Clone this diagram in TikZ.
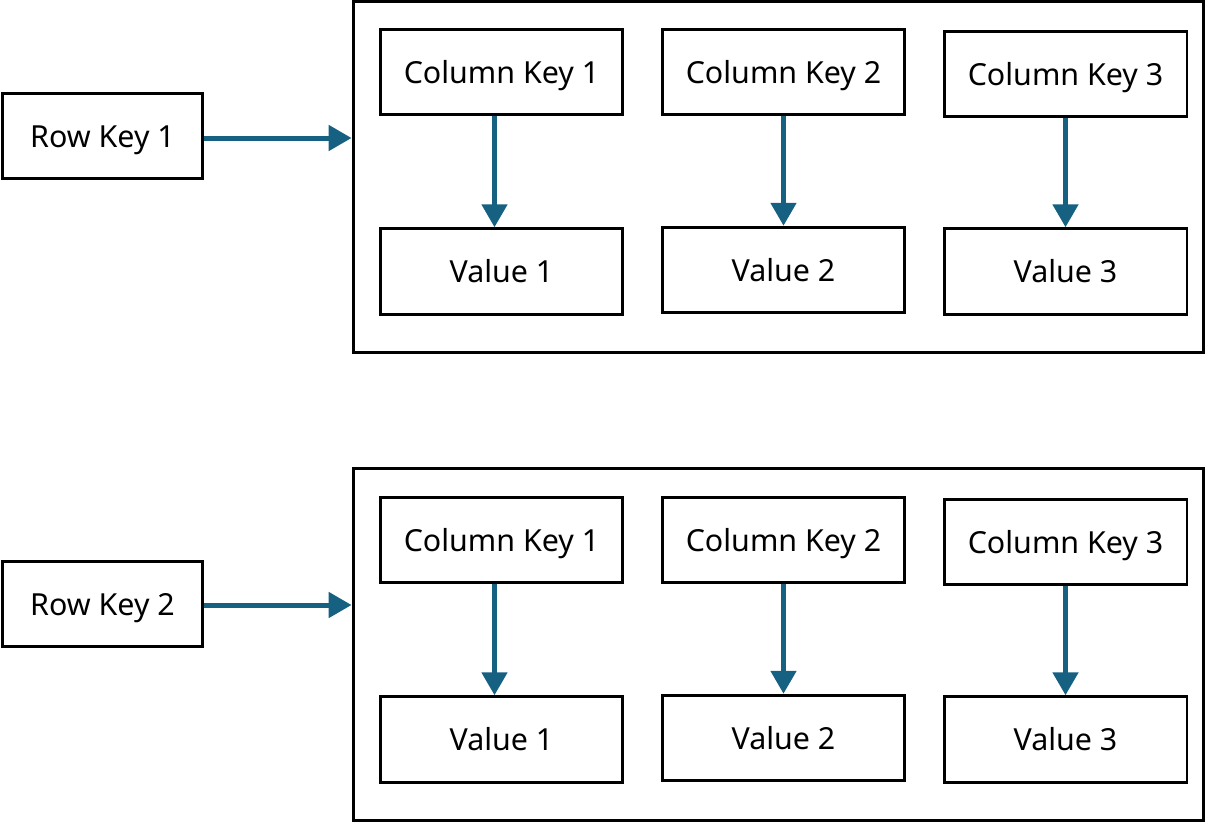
\documentclass[tikz,border=0pt]{standalone}
\usepackage{fontspec}
\setmainfont{Noto Sans}
\usetikzlibrary{arrows.meta}
\definecolor{arrowblue}{RGB}{22,96,130}
\begin{document}
\begin{tikzpicture}[x=0.02cm,y=-0.02cm,
  box/.style={draw=black,line width=1.7pt,fill=white,inner sep=0pt,
    minimum width=4.86cm,minimum height=1.71cm,text height=12.6pt,text depth=0pt,
    font=\fontsize{17.3pt}{20pt}\selectfont},
  rowbox/.style={box,minimum width=4.02cm},
  outerbox/.style={draw=black,line width=1.7pt,inner sep=0pt,minimum width=17.02cm,minimum height=7.03cm},
  link/.style={draw=arrowblue,line width=2.85pt,-{Triangle[width=0.5cm,length=0.46cm]}}]
\useasboundingbox (0,0) rectangle (1206,822);
% top group
\node[outerbox] (o1) at (778.5,177) {};
\node[rowbox] (rk1) at (102.5,136) {Row Key 1};
\node[box] (ca1) at (501.5,72) {Column Key 1};
\node[box] (cb1) at (783.5,72) {Column Key 2};
\node[box] (cc1) at (1065.5,74) {Column Key 3};
\node[box] (va1) at (501.5,271.5) {Value 1};
\node[box] (vb1) at (783.5,270) {Value 2};
\node[box] (vc1) at (1065.5,271.5) {Value 3};
\draw[link] ([yshift=-0.04cm]rk1.east) -- ([yshift=-0.04cm]rk1.east -| o1.west);
\draw[link] ([xshift=-0.14cm]ca1.south) -- ([xshift=-0.14cm]va1.north);
\draw[link] (cb1.south) -- (vb1.north);
\draw[link] (cc1.south) -- (vc1.north);
% bottom group
\node[outerbox] (o2) at (778.5,644.5) {};
\node[rowbox] (rk2) at (102.5,604) {Row Key 2};
\node[box] (ca2) at (501.5,540) {Column Key 1};
\node[box] (cb2) at (783.5,540) {Column Key 2};
\node[box] (cc2) at (1065.5,542) {Column Key 3};
\node[box] (va2) at (501.5,739.5) {Value 1};
\node[box] (vb2) at (783.5,738) {Value 2};
\node[box] (vc2) at (1065.5,739.5) {Value 3};
\draw[link] ([yshift=-0.02cm]rk2.east) -- ([yshift=-0.02cm]rk2.east -| o2.west);
\draw[link] ([xshift=-0.14cm]ca2.south) -- ([xshift=-0.14cm]va2.north);
\draw[link] (cb2.south) -- (vb2.north);
\draw[link] (cc2.south) -- (vc2.north);
\end{tikzpicture}
\end{document}
